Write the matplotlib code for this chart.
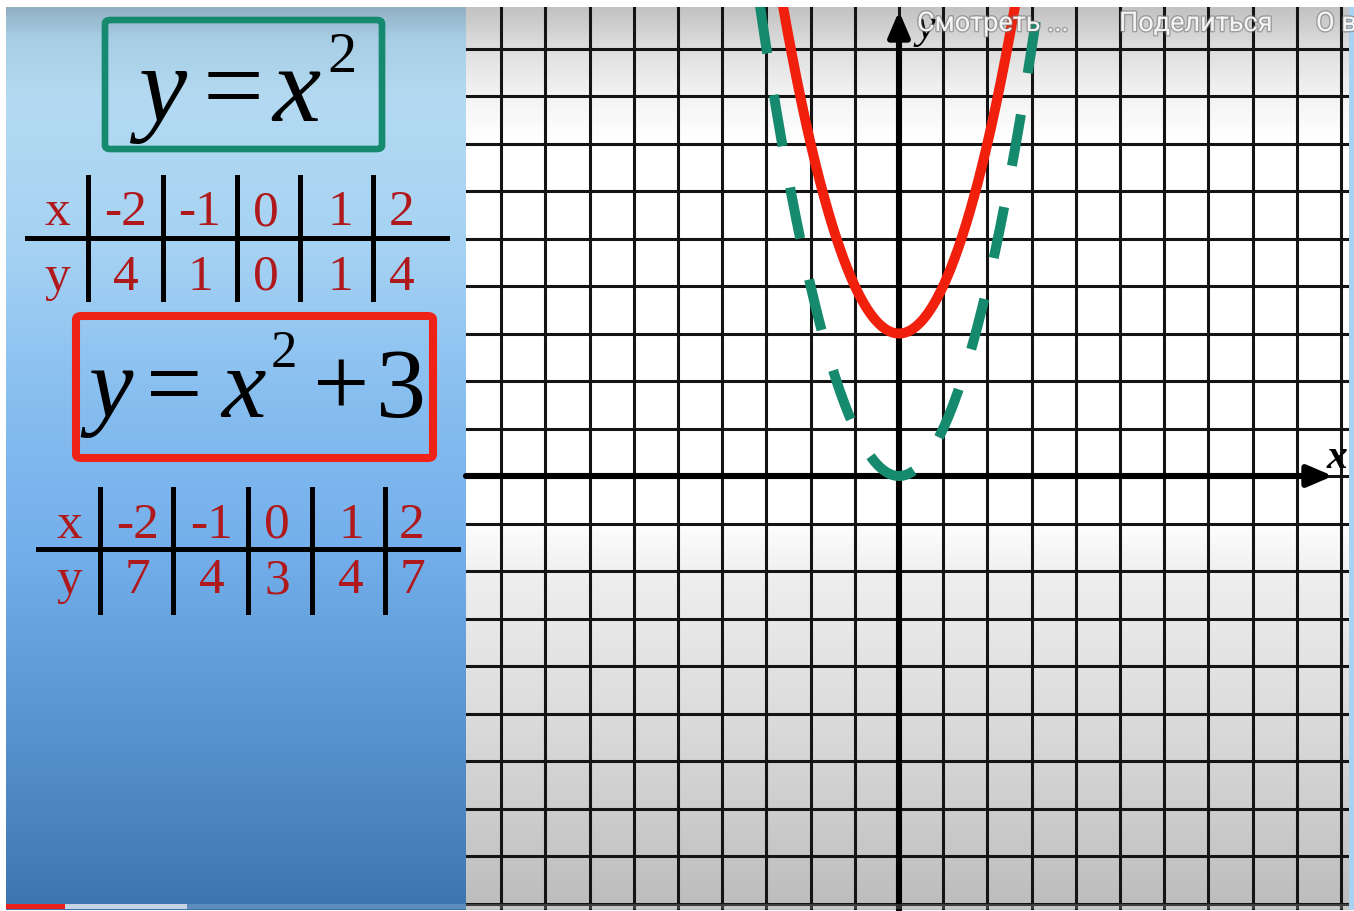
import numpy as np
import matplotlib.pyplot as plt
import matplotlib.patheffects as pe
from matplotlib.patches import FancyBboxPatch, Rectangle
from matplotlib.lines import Line2D

# Values shown in the two tables
table_x = [-2, -1, 0, 1, 2]
table_y_plain = [4, 1, 0, 1, 4]
table_y_shifted = [7, 4, 3, 4, 7]
shift = 3  # y = x^2 + shift

# Overlay captions along the top edge
top_captions = ["Смотреть ...", "Поделиться", "О в"]

W, H = 1354, 912
SERIF = "Liberation Serif"
RED_TEXT = "#b0191c"
GREEN = "#168a6e"
RED = "#f0200c"


def fx(px):
    return px / W


def fy(py):
    return 1 - py / H


def vertical_gradient(stops, top, bottom):
    # stops: list of (pixel_y, (r, g, b)) -> image column of colours
    rows = np.arange(top, bottom)
    pos = [s[0] for s in stops]
    rgb = np.array([s[1] for s in stops]) / 255.0
    col = np.stack([np.interp(rows, pos, rgb[:, i]) for i in range(3)], axis=1)
    return col[:, None, :]


fig = plt.figure(figsize=(W / 100, H / 100), dpi=100)
fig.patch.set_facecolor("white")

# ---- left blue panel ----
ax_left = fig.add_axes([fx(6), fy(911), fx(466) - fx(6), fy(8) - fy(911)])
ax_left.axis("off")
left_stops = [(8, (146, 176, 196)), (40, (168, 206, 230)), (100, (180, 218, 242)),
              (250, (165, 210, 243)), (400, (135, 190, 240)), (550, (115, 175, 235)),
              (700, (92, 152, 212)), (850, (70, 128, 186)), (911, (60, 116, 174))]
ax_left.imshow(vertical_gradient(left_stops, 8, 911), aspect="auto", extent=(0, 1, 0, 1))
ax_left.set_xlim(0, 1)
ax_left.set_ylim(0, 1)

# ---- grid panel ----
x0_px, y0_px = 899, 477
ux, uy = 44.2, 47.5
xmin, xmax = (466 - x0_px) / ux, (1349 - x0_px) / ux
ymin, ymax = (y0_px - 911) / uy, (y0_px - 8) / uy

ax = fig.add_axes([fx(466), fy(911), fx(1349) - fx(466), fy(8) - fy(911)])
grid_stops = [(8, (194, 194, 194)), (45, (220, 220, 220)), (95, (243, 243, 243)),
              (140, (255, 255, 255)), (520, (255, 255, 255)), (580, (238, 238, 238)),
              (700, (222, 222, 222)), (800, (207, 207, 207)), (911, (188, 188, 188))]
ax.imshow(vertical_gradient(grid_stops, 8, 911), aspect="auto",
          extent=(xmin, xmax, ymin, ymax), zorder=0)
ax.set_xlim(xmin, xmax)
ax.set_ylim(ymin, ymax)
ax.set_xticks(np.arange(-9, 11))
ax.set_yticks(np.arange(-9, 10))
ax.set_axisbelow(True)
ax.grid(True, color="#141414", lw=2.2)
ax.tick_params(length=0, labelbottom=False, labelleft=False)
for s in ax.spines.values():
    s.set_visible(False)

# coordinate axes with arrow heads
arrow = dict(arrowstyle="-|>,head_length=0.75,head_width=0.32", mutation_scale=20,
             lw=4.4, color="black", shrinkA=0, shrinkB=0)
ax.annotate("", xy=((1333 - x0_px) / ux, 0), xytext=(xmin, 0), arrowprops=arrow, zorder=2)
ax.annotate("", xy=(0, (y0_px - 12) / uy), xytext=(0, ymin), arrowprops=arrow, zorder=2)

# parabolas
xr = np.linspace(-3.6, 3.6, 900)
ax.plot(xr, xr ** 2 + shift, color=RED, lw=7.2, zorder=3)
xg = np.linspace(-np.sqrt((y0_px - 3) / uy), 3.4, 1500)
ax.plot(xg, xg ** 2, color=GREEN, lw=7.2, linestyle=(0, (5.2, 4.2)), zorder=3)

# axis names
fig.text(fx(1327), fy(468), "x", family=SERIF, style="italic", weight="bold",
         fontsize=30, color="black", va="baseline")
fig.text(fx(916), fy(38), "y", family=SERIF, style="italic", fontsize=30,
         color="black", va="baseline")

# ---- formula boxes ----
fig.patches.append(FancyBboxPatch((fx(105), fy(150)), fx(382) - fx(105), fy(21) - fy(150),
                                  boxstyle="round,pad=0,rounding_size=0.004",
                                  transform=fig.transFigure, fill=False,
                                  ec=GREEN, lw=4.8))
fig.patches.append(FancyBboxPatch((fx(76), fy(459)), fx(433) - fx(76), fy(317) - fy(459),
                                  boxstyle="round,pad=0,rounding_size=0.004",
                                  transform=fig.transFigure, fill=False,
                                  ec="#ee2216", lw=5.8))


def formula_part(px, py, s, size, italic=False):
    fig.text(fx(px), fy(py), s, family=SERIF, style="italic" if italic else "normal",
             fontsize=size, color="black", va="baseline", ha="left")


# y = x^2
formula_part(138, 121, "y", 78, italic=True)
formula_part(203, 121, "=", 78)
formula_part(272, 121, "x", 78, italic=True)
formula_part(327, 72, "2", 42)

# y = x^2 + 3
formula_part(88, 417, "y", 72, italic=True)
formula_part(146, 417, "=", 72)
formula_part(221, 417, "x", 72, italic=True)
formula_part(271, 367, "2", 38)
formula_part(313, 417, "+", 72)
formula_part(376, 417, "3", 72)


# ---- value tables ----
def draw_table(line_y, line_x0, line_x1, vlines, v_top, v_bottom,
               label_cx, centers, base1, base2, xvals, yvals):
    fig.lines.append(Line2D([fx(line_x0), fx(line_x1)], [fy(line_y), fy(line_y)],
                            transform=fig.transFigure, color="black", lw=3.6))
    for vx in vlines:
        fig.lines.append(Line2D([fx(vx), fx(vx)], [fy(v_top), fy(v_bottom)],
                                transform=fig.transFigure, color="black", lw=3.6))
    fig.text(fx(label_cx), fy(base1), "x", family=SERIF, fontsize=37,
             color=RED_TEXT, ha="center", va="baseline")
    fig.text(fx(label_cx), fy(base2), "y", family=SERIF, fontsize=37,
             color=RED_TEXT, ha="center", va="baseline")
    for cx, xv, yv in zip(centers, xvals, yvals):
        fig.text(fx(cx), fy(base1), str(xv), family=SERIF, fontsize=37,
                 color=RED_TEXT, ha="center", va="baseline")
        fig.text(fx(cx), fy(base2), str(yv), family=SERIF, fontsize=37,
                 color=RED_TEXT, ha="center", va="baseline")


draw_table(239, 27, 447, [88, 163, 237, 300, 373], 178, 300,
           57, [126, 200, 266, 340, 402], 225, 290, table_x, table_y_plain)
draw_table(550, 38, 458, [100, 173, 248, 312, 385], 490, 613,
           69, [138, 212, 277, 351, 412], 538, 593, table_x, table_y_shifted)

# ---- frame details ----
fig.patches.append(Rectangle((fx(1349), fy(911)), fx(W) - fx(1349), fy(8) - fy(911),
                             transform=fig.transFigure, color="#a9d2f0", lw=0))
fig.patches.append(Rectangle((fx(6), fy(910)), fx(1349) - fx(6), fy(905) - fy(910),
                             transform=fig.transFigure, color="white", alpha=0.18, lw=0))
fig.patches.append(Rectangle((fx(65), fy(910)), fx(187) - fx(65), fy(905) - fy(910),
                             transform=fig.transFigure, color="#c6d3e2", lw=0))
fig.patches.append(Rectangle((fx(6), fy(910)), fx(65) - fx(6), fy(905) - fy(910),
                             transform=fig.transFigure, color="#e8211c", lw=0))

shadow = [pe.withStroke(linewidth=2.0, foreground=(0.45, 0.45, 0.45, 0.55))]
for px, txt in zip([917, 1119, 1316], top_captions):
    fig.text(fx(px), fy(32), txt, family="Roboto", fontsize=19.5, color="#f4f4f4",
             va="baseline", ha="left", path_effects=shadow)

fig.savefig("out.png", dpi=100)
